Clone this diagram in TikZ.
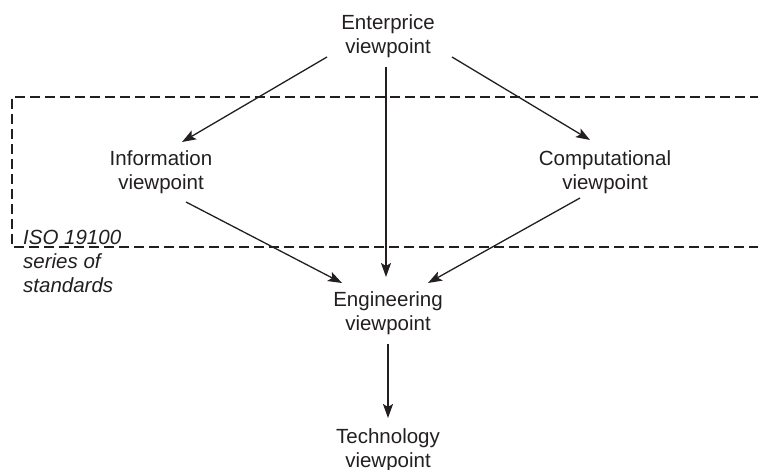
\documentclass[tikz,border=0pt]{standalone}
\usepackage{fontspec}
\setmainfont{Liberation Sans}
\usepackage{tikz}
\usetikzlibrary{arrows.meta,calc}
\definecolor{ink}{HTML}{231F20}
\tikzstyle{view} = [align=center, inner sep=0pt, text=ink,
    font=\fontsize{20.5}{24.5}\selectfont]
\tikzstyle{note} = [align=left, inner sep=0pt, text=ink,
    font=\fontsize{20.5}{24}\selectfont\itshape]
\tikzstyle{arrow} = [draw, ink, line width=1.3pt, -{Stealth[length=14pt,width=10pt,inset=3pt]}]
\tikzstyle{frame} = [draw, ink, line width=1.2pt, dash pattern=on 10pt off 5pt]

\begin{document}
\begin{tikzpicture}[x=1pt, y=-1pt]
    \useasboundingbox (0,0) rectangle (758,470);
    % Place nodes
    \node [view] (enterprise) at (388,36) {Enterprice\\viewpoint};
    \node [view] (information) at (161,172) {Information\\viewpoint};
    \node [view] (computational) at (605,172) {Computational\\viewpoint};
    \node [view] (engineering) at (388,313) {Engineering\\viewpoint};
    \node [view] (technology) at (388,450) {Technology\\viewpoint};
    \node [note, anchor=north west] (iso) at (23,230) {ISO 19100\\series of\\standards};

    % dashed ISO frame, open on the right
    \path [frame] (760,97) -- (12,97) -- (12,247) -- (760,247);

    \path [arrow] ($(enterprise)+(-61,21)$) -- ($(information)+(21,-30)$);
    \path [arrow] ($(enterprise)+(64,21)$) -- ($(computational)+(-15,-32)$);
    \path [arrow] ($(enterprise)+(-2,31)$) -- ($(engineering)+(-2,-36)$);
    \path [arrow] ($(information)+(25,30)$) -- ($(engineering)+(-46,-30)$);
    \path [arrow] ($(computational)+(-25,26)$) -- ($(engineering)+(40,-30)$);
    \path [arrow] ($(engineering)+(0,31)$) -- ($(technology)+(0,-32)$);
\end{tikzpicture}
\end{document}
